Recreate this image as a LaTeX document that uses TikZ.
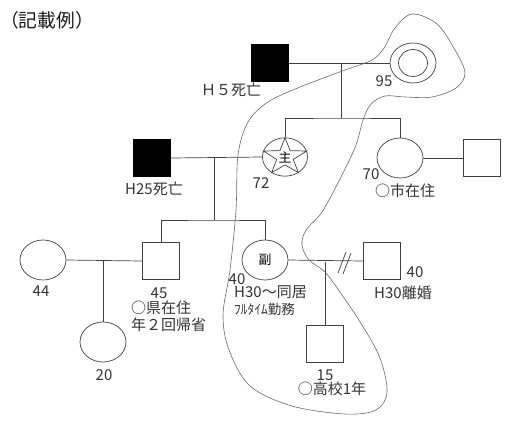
\documentclass[tikz,border=0pt]{standalone}
\usepackage{fontspec}
\setmainfont{Noto Sans CJK JP}
\usetikzlibrary{shapes.geometric}

\begin{document}
\begin{tikzpicture}[
    x=0.03cm, y=-0.03cm,
    male/.style={draw=black!75, line width=0.6pt, minimum size=1.13cm, inner sep=0pt},
    dead/.style={male, fill=black, draw=black},
    female/.style={ellipse, draw=black!75, line width=0.6pt, minimum width=1.38cm, minimum height=1.2cm, inner sep=0pt},
    tie/.style={draw=black!75, line width=0.6pt},
    txt/.style={text=black!80, font=\fontsize{12.8}{15}\selectfont, inner sep=0pt},
    smalltxt/.style={txt, font=\fontsize{11.5}{13}\selectfont},
    outline/.style={draw=black!60, line width=0.5pt},
]
\useasboundingbox (0,0) rectangle (517,422);

% === Title ===
\node[txt, text=black!90, font=\fontsize{16}{18}\selectfont, anchor=west] (title) at (0,20) {（記載例）};

% === Grandparents ===
\node[dead] (gf) at (270,63) {};
\node[female] (gm) at (413,63) {};
\node[ellipse, tie, minimum width=0.87cm, minimum height=0.81cm, inner sep=0pt] (gmin) at (gm.center) {};
\node[txt] (gflbl) at (231,90) {Ｈ５死亡};
\node[txt] (gmage) at (384,81) {95};

\draw[tie] (gf.east) -- (gm.west);
\coordinate (c1) at (341,63);
\coordinate (c1b) at (341,118);
\draw[tie] (c1) -- (c1b);

% === Second generation ===
\node[dead] (h25) at (152,158) {};
\node[female, minimum width=1.35cm, minimum height=1.15cm, font=\fontsize{11}{12}\selectfont] (shu) at (285,157) {主};
\node[female] (aunt) at (400,158) {};
\node[male] (auntm) at (482,158) {};

% star of the client
\draw[tie, shift={(shu.center)}] plot[samples at={0,...,9}]
    ({(15.7+7*cos(180*\x))*cos(90+36*\x)}, {-(13.6+5.7*cos(180*\x))*sin(90+36*\x)}) -- cycle;

\draw[tie] (shu.north) |- (c1b) -| (aunt.north);
\draw[tie] (h25.east) -- (shu.west);
\draw[tie] (aunt.east) -- (auntm.west);

\node[txt] (h25lbl) at (154,189) {H25死亡};
\node[txt] (shuage) at (261,183) {72};
\node[txt] (auntage) at (371,174) {70};
\node[txt] (auntlbl) at (405,191) {○市在住};

\coordinate (c2) at (214,158);
\coordinate (c2b) at (214,220);
\draw[tie] (c2) -- (c2b);

% === Third generation ===
\node[female] (w44) at (43,260) {};
\node[male] (s45) at (161,261) {};
\node[female, font=\fontsize{11}{12}\selectfont] (fuku) at (265,260) {副};
\node[male] (exh) at (382,261) {};

\draw[tie] (s45.north) |- (c2b) -| (fuku.north);
\draw[tie] (w44.east) -- (s45.west);
\draw[tie] (fuku.east) -- (exh.west);

% divorce mark
\coordinate (dv) at (344,262);
\draw[tie] (dv) ++(-6,11) -- ++(8,-21);
\draw[tie] (dv) ++(-1,12) -- ++(8,-21);

\node[txt] (w44age) at (41,291) {44};
\node[txt] (s45age) at (159,293) {45};
\node[txt, anchor=west] (s45lbl1) at (131,308) {○県在住};
\node[txt, anchor=west] (s45lbl2) at (131,325) {年２回帰省};
\node[txt] (fukuage) at (237,279) {40};
\node[txt, anchor=west] (fukulbl1) at (234,292) {H30～同居};
\node[smalltxt, anchor=west] (fukulbl2) at (234,309) {ﾌﾙﾀｲﾑ勤務};
\node[txt] (exhage) at (415,272) {40};
\node[txt] (exhlbl) at (403,293) {H30離婚};

% === Fourth generation ===
\node[female] (d20) at (103,342) {};
\node[male] (s15) at (325,344) {};

\coordinate (c3) at (103,260);
\draw[tie] (c3) -- (d20.north);
\coordinate (c4) at (325,262);
\draw[tie] (c4) -- (s15.north);

\node[txt] (d20age) at (104,375) {20};
\node[txt] (s15age) at (325,375) {15};
\node[txt] (s15lbl) at (332,389) {○高校1年};

% === Household boundary ===
\draw[outline] plot[smooth cycle, tension=0.55] coordinates {
    (412,14) (437,24) (455,50) (465,73) (456,88) (432,97) (405,97)
    (385,96) (371,104) (363,120) (356,145) (342,175) (322,212)
    (306,230) (302,245) (309,260) (325,272) (342,295) (362,325)
    (380,358) (387,392) (376,410) (345,414) (292,406) (250,386)
    (229,350) (223,315) (230,270) (236,210) (238,155) (248,122)
    (268,102) (300,87) (345,70) (372,60) (384,48) (395,28)
};

\end{tikzpicture}
\end{document}
